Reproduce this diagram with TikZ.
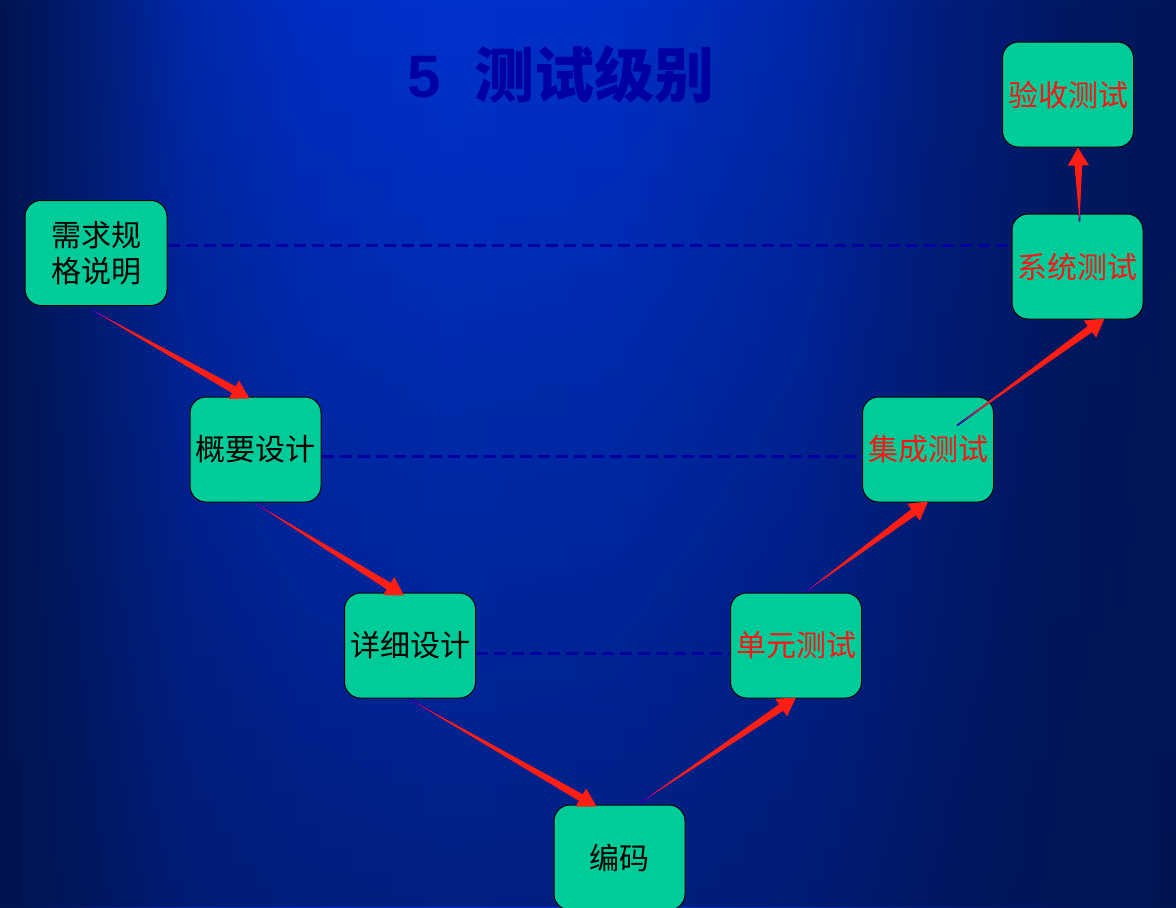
\documentclass[tikz,border=0pt]{standalone}
\usepackage{fontspec}
\newfontfamily\cjk{Noto Sans CJK SC}
\newfontfamily\latin{Liberation Sans}
\usetikzlibrary{calc,fadings}

\definecolor{bgA}{RGB}{0,20,80}
\definecolor{bgB}{RGB}{0,30,120}
\definecolor{bgC}{RGB}{0,40,170}
\definecolor{bgD}{RGB}{0,46,195}
\definecolor{bgE}{RGB}{0,50,205}
\definecolor{bgF}{RGB}{0,48,200}
\definecolor{bgG}{RGB}{0,30,125}
\definecolor{bgH}{RGB}{0,25,100}
\definecolor{bgI}{RGB}{0,22,90}
\definecolor{boxgreen}{RGB}{0,204,153}
\definecolor{testred}{RGB}{255,20,20}
\definecolor{arrowred}{RGB}{255,30,20}
\definecolor{arrowblue}{RGB}{0,0,200}
\definecolor{tierblue}{RGB}{0,0,160}
\definecolor{titleblue}{RGB}{0,0,160}

\pgfdeclarehorizontalshading{bgband}{100bp}{color(0bp)=(bgA); color(25bp)=(bgA);
  color(29bp)=(bgB); color(33bp)=(bgC); color(38bp)=(bgD); color(44bp)=(bgE);
  color(51bp)=(bgF); color(59bp)=(bgC); color(65bp)=(bgG); color(70bp)=(bgH);
  color(75bp)=(bgI); color(100bp)=(bgI)}
\tikzfading[name=darkdown, top color=transparent!100, bottom color=transparent!40]

\begin{document}
\begin{tikzpicture}[x=0.5pt,y=-0.5pt,
    tier/.style={draw=tierblue, line width=1.6pt, dash pattern=on 6pt off 3pt},
    box/.style={draw=black, line width=0.5pt, fill=boxgreen, rounded corners=8pt,
      minimum width=65.5pt, minimum height=52.5pt, inner sep=1pt, align=center,
      font=\cjk\fontsize{15}{18}\selectfont},
    test/.style={box, text=testred}]
    \clip (0,0) rectangle (1176,907);
    \shade[shading=bgband] (0,0) rectangle (1176,907);
    \fill[bgA, path fading=darkdown] (0,0) rectangle (1176,907);

    \node[text=titleblue, font=\fontsize{30}{36}\selectfont] (title) at (561,75)
      {{\latin\bfseries 5}\hspace{17pt}{\cjk\bfseries 测试级别}};

    \node[box, minimum width=71pt] (req) at (96,253) {需求规\\格说明};
    \node[box] (sum) at (255.5,449.5) {概要设计};
    \node[box] (det) at (410,645.5) {详细设计};
    \node[box] (code) at (619.5,857.5) {编码};
    \node[test] (unit) at (796,645.5) {单元测试};
    \node[test] (int) at (928,449.5) {集成测试};
    \node[test] (sys) at (1077.5,266.5) {系统测试};
    \node[test] (acc) at (1068,94.5) {验收测试};

    \coordinate (t1) at ($(req.east)+(0,-7.5)$);
    \coordinate (t2) at ($(sum.east)+(0,7)$);
    \coordinate (t3) at ($(det.east)+(0,8)$);
    \draw[tier] (t1) -- (t1 -| sys.west);
    \draw[tier] (t2) -- (t2 -| int.west);
    \draw[tier] (t3) -- (t3 -| unit.west);

    \coordinate (s1) at ($(req.south)+(-4,4)$);
    \coordinate (e1) at ($(sum.north)+(-6,2)$);
    \coordinate (s2) at ($(sum.south)+(0,1)$);
    \coordinate (e2) at ($(det.north)+(-6,3)$);
    \coordinate (s3) at ($(det.south)+(0,1)$);
    \coordinate (e3) at ($(code.north)+(-23,2)$);
    \coordinate (s4) at ($(code.north)+(21,-2)$);
    \coordinate (e4) at ($(unit.south)+(0,-1)$);
    \coordinate (s5) at ($(unit.north)+(10,-1)$);
    \coordinate (e5) at ($(int.south)+(0,-1)$);
    \coordinate (s6) at ($(int.center)+(29,-24)$);
    \coordinate (e6) at ($(sys.south)+(27,-1)$);
    \coordinate (s7) at ($(sys.north)+(2,8)$);
    \coordinate (e7) at ($(acc.south)+(10,0)$);
    \foreach \i in {1,...,7} {
      \coordinate (h\i) at ($(e\i)!9pt!(s\i)$);
      \draw[arrowblue, line width=0.9pt] (s\i) -- (h\i);
      \fill[arrowred] (s\i) -- ($(h\i)!1.9pt!90:(e\i)$) -- ($(h\i)!5.3pt!90:(e\i)$) -- (e\i)
        -- ($(h\i)!5.3pt!-90:(e\i)$) -- ($(h\i)!1.9pt!-90:(e\i)$) -- cycle;
    }
  \end{tikzpicture}
\end{document}
